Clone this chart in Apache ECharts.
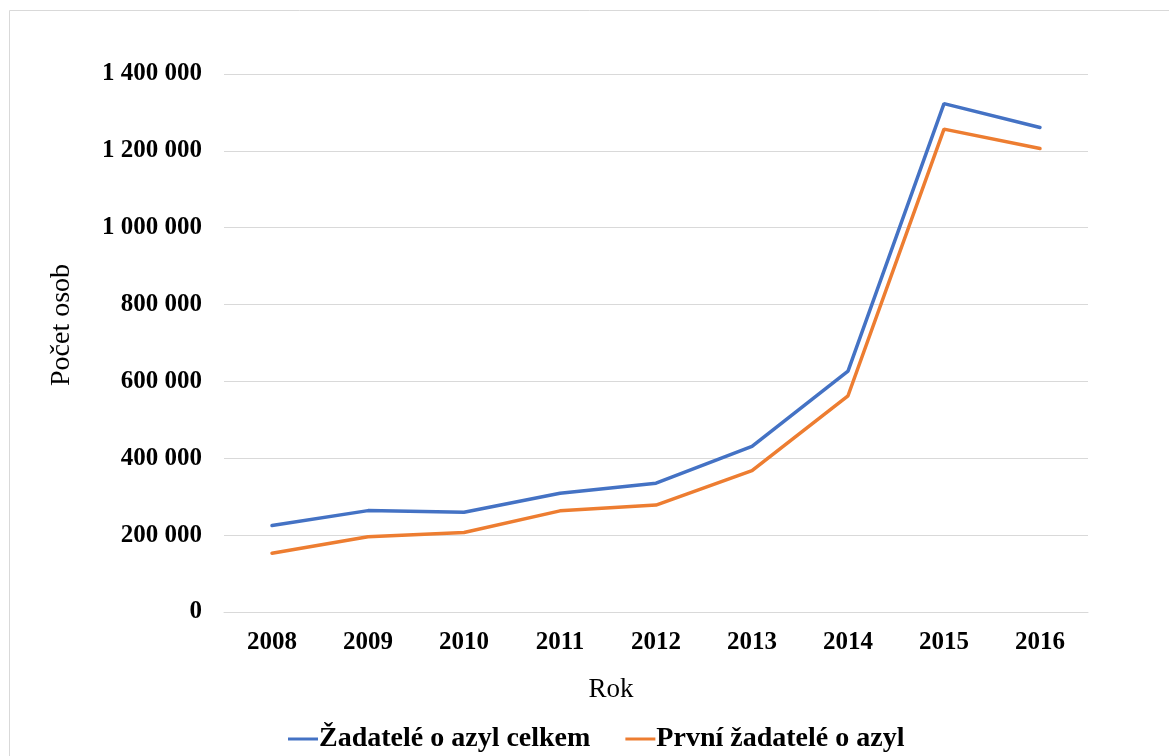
<!DOCTYPE html>
<html>
<head>
<meta charset="utf-8">
<style>
  html, body { margin: 0; padding: 0; background: #fff; }
  #chart { width: 1169px; height: 756px; }
</style>
</head>
<body>
<div id="chart"></div>
<script src="https://cdn.jsdelivr.net/npm/echarts@6/dist/echarts.min.js"></script>
<script>
const years = ['2008', '2009', '2010', '2011', '2012', '2013', '2014', '2015', '2016']
const applicantsTotal = [225150, 263835, 259400, 309040, 335290, 431090, 626960, 1322825, 1260910]
const firstTime = [152890, 195770, 206880, 263165, 278280, 367825, 562680, 1256580, 1206045]
const seriesNames = ['Žadatelé o azyl celkem', 'První žadatelé o azyl']

const FONT = '"Liberation Serif", "Times New Roman", serif'

function fmt(v) {
  return String(v).replace(/\B(?=(\d{3})+(?!\d))/g, ' ')
}

const chart = echarts.init(document.getElementById('chart'))
chart.setOption({
  animation: false,
  grid: { left: 224, right: 81, top: 74, bottom: 144 },
  legend: {
    data: seriesNames,
    top: 720,
    left: 283,
    icon: 'rect',
    itemWidth: 30,
    itemHeight: 3,
    itemGap: 35,
    textStyle: { fontFamily: FONT, fontWeight: 'bold', fontSize: 28, color: '#000', padding: [0, 0, 0, -4] }
  },
  graphic: [
    { type: 'rect', shape: { x: 9.5, y: 10.5, width: 1200, height: 800 }, style: { fill: 'none', stroke: '#d9d9d9', lineWidth: 1 }, silent: true },
    { type: 'text', x: 611, y: 690, style: { text: 'Rok', font: '27px ' + FONT, fill: '#000', align: 'center', verticalAlign: 'middle' } },
    { type: 'text', x: 62, y: 325, rotation: Math.PI / 2, style: { text: 'Počet osob', font: '28px ' + FONT, fill: '#000', align: 'center', verticalAlign: 'middle' } }
  ],
  xAxis: {
    type: 'category',
    data: years,
    boundaryGap: true,
    axisLine: { show: true, lineStyle: { color: '#d9d9d9', width: 1 } },
    axisTick: { show: false },
    axisLabel: { margin: 18, fontFamily: FONT, fontWeight: 'bold', fontSize: 25, color: '#000' }
  },
  yAxis: {
    type: 'value',
    min: 0,
    max: 1400000,
    interval: 200000,
    axisLine: { show: false },
    axisTick: { show: false },
    splitLine: { lineStyle: { color: '#d9d9d9', width: 1 } },
    axisLabel: { margin: 22, padding: [5, 0, 0, 0], fontFamily: FONT, fontWeight: 'bold', fontSize: 25, color: '#000', formatter: fmt }
  },
  series: [
    {
      name: seriesNames[0],
      type: 'line',
      data: applicantsTotal,
      symbol: 'none',
      lineStyle: { color: '#4472C4', width: 3.5, cap: 'round' },
      itemStyle: { color: '#4472C4' }
    },
    {
      name: seriesNames[1],
      type: 'line',
      data: firstTime,
      symbol: 'none',
      lineStyle: { color: '#ED7D31', width: 3.5, cap: 'round' },
      itemStyle: { color: '#ED7D31' }
    }
  ]
})
</script>
</body>
</html>
